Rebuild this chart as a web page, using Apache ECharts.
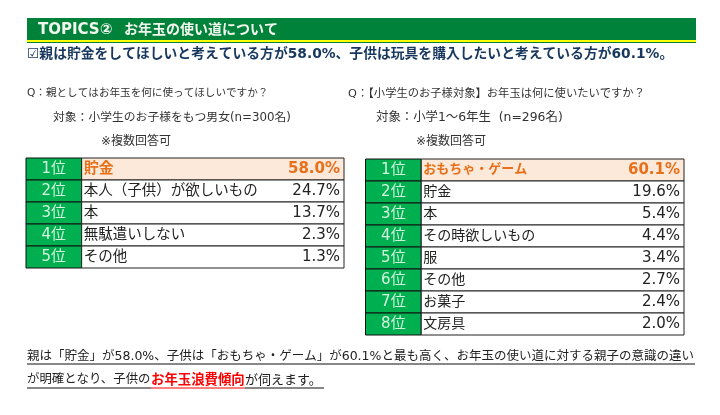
<!DOCTYPE html>
<html>
<head>
<meta charset="utf-8">
<style>html,body{margin:0;padding:0;background:#fff}#chart{width:720px;height:415px}</style>
<script src="https://cdn.jsdelivr.net/npm/echarts@6/dist/echarts.min.js"></script>
</head>
<body>
<div id="chart"></div>
<script>
// 親の回答
const parentItems = ["貯金", "本人（子供）が欲しいもの", "本", "無駄遣いしない", "その他"];
const parentValues = [58.0, 24.7, 13.7, 2.3, 1.3];
// 子供の回答
const childItems = ["おもちゃ・ゲーム", "貯金", "本", "その時欲しいもの", "服", "その他", "お菓子", "文房具"];
const childValues = [60.1, 19.6, 5.4, 4.4, 3.4, 2.7, 2.4, 2.0];
const rankLabels = ["1位", "2位", "3位", "4位", "5位", "6位", "7位", "8位"];

const FONT = '"DejaVu Sans", "Noto Sans CJK JP", sans-serif';
const RANK_SHARE = 17.5; // 順位列の幅（表全体に対する%）

function tableSeries(idx, items, labelSize, topSize) {
  return {
    type: "custom",
    xAxisIndex: idx,
    yAxisIndex: idx,
    encode: { x: 1, y: 0 },
    renderItem: function (params, api) {
      const row = api.value(0);
      const val = api.value(1);
      const h = api.size([0, 1])[1];
      const left = api.coord([0, row]);
      const split = api.coord([RANK_SHARE, row])[0];
      const right = api.coord([100, row])[0];
      const x0 = left[0];
      const y = left[1];
      const top = row === 0;
      const color = top ? "#E8701A" : "#222";
      const weight = top ? "bold " : "";
      return {
        type: "group",
        children: [
          { type: "rect", shape: { x: x0, y: y - h / 2, width: split - x0, height: h },
            style: { fill: "#00B050", stroke: "#111", lineWidth: 1 } },
          { type: "rect", shape: { x: split, y: y - h / 2, width: right - split, height: h },
            style: { fill: top ? "#FDE9D9" : "#fff", stroke: "#222", lineWidth: 1 } },
          { type: "text", style: { text: rankLabels[row], x: (x0 + split) / 2, y: y, fill: "#D5F2DF",
            font: "15px " + FONT, textAlign: "center", textVerticalAlign: "middle" } },
          { type: "text", style: { text: items[row], x: split + 2, y: y, fill: color,
            font: weight + (top ? topSize : labelSize) + "px " + FONT, textAlign: "left", textVerticalAlign: "middle" } },
          { type: "text", style: { text: val.toFixed(1) + "%", x: right - 4, y: y, fill: color,
            font: weight + "15px " + FONT, textAlign: "right", textVerticalAlign: "middle" } }
        ]
      };
    },
    data: (idx === 0 ? parentValues : childValues).map(function (v, i) { return [i, v]; })
  };
}

function hiddenX(idx) {
  return { type: "value", gridIndex: idx, min: 0, max: 100, show: false };
}
function hiddenY(idx, items) {
  return { type: "category", gridIndex: idx, inverse: true, data: items, show: false };
}
function note(text, x, y, size, color, extra) {
  return { type: "text", left: x, top: y,
    style: { text: text, fill: color, font: (extra || "") + size + "px " + FONT } };
}

const chart = echarts.init(document.getElementById("chart"), null, { renderer: "canvas" });
chart.setOption({
  animation: false,
  backgroundColor: "#fff",
  grid: [
    { left: 26, top: 158, width: 318, height: 110 },
    { left: 365.5, top: 159, width: 318.5, height: 176 }
  ],
  xAxis: [hiddenX(0), hiddenX(1)],
  yAxis: [hiddenY(0, parentItems), hiddenY(1, childItems)],
  series: [tableSeries(0, parentItems, 14.5, 15), tableSeries(1, childItems, 14, 13)],
  graphic: [
    { type: "rect", left: 27, top: 18, shape: { width: 669, height: 22 }, style: { fill: "#00823B" } },
    { type: "rect", left: 27, top: 40, shape: { width: 669, height: 2 }, style: { fill: "#FFFF00" } },
    { type: "rect", left: 27, top: 42, shape: { width: 669, height: 1 }, style: { fill: "#00823B" } },
    note("TOPICS②", 38, 23, 15, "#F2F7EE", "bold "),
    note("お年玉の使い道について", 124, 23, 14, "#F2F7EE", "bold "),
    note("☑親は貯金をしてほしいと考えている方が58.0%、子供は玩具を購入したいと考えている方が60.1%。", 27, 48, 13.8, "#17375E", "bold "),
    note("Q：親としてはお年玉を何に使ってほしいですか？", 27, 88, 10.6, "#333"),
    note("対象：小学生のお子様をもつ男女(n=300名)", 53, 112, 11.8, "#333"),
    note("※複数回答可", 101, 136, 12, "#333"),
    note("Q：【小学生のお子様対象】お年玉は何に使いたいですか？", 348, 88, 11.3, "#333"),
    note("対象：小学1～6年生  (n=296名)", 376, 112, 12.4, "#333"),
    note("※複数回答可", 416, 136, 12, "#333"),
    note("親は「貯金」が58.0%、子供は「おもちゃ・ゲーム」が60.1%と最も高く、お年玉の使い道に対する親子の意識の違い", 27, 350, 12.5, "#222"),
    note("が明確となり、子供の", 27, 374, 12.4, "#222"),
    note("お年玉浪費傾向", 151, 374, 13.4, "#FF0000", "bold "),
    note("が伺えます。", 245, 374, 13, "#222"),
    { type: "rect", left: 27, top: 363.5, shape: { width: 668, height: 1 }, style: { fill: "#111" } },
    { type: "rect", left: 27, top: 387.5, shape: { width: 124, height: 1 }, style: { fill: "#111" } },
    { type: "rect", left: 151, top: 387.5, shape: { width: 94, height: 1 }, style: { fill: "#FF0000" } },
    { type: "rect", left: 245, top: 387.5, shape: { width: 79, height: 1 }, style: { fill: "#111" } }
  ]
});
</script>
</body>
</html>
